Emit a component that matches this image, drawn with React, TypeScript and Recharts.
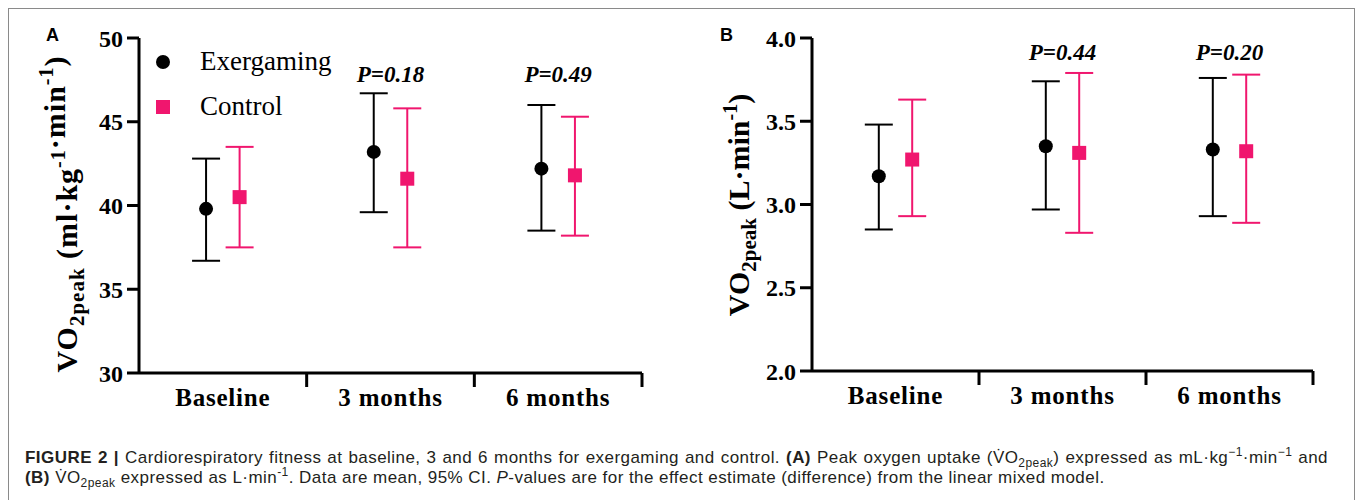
import React from 'react';
import { ScatterChart, Scatter, XAxis, YAxis, ErrorBar, ReferenceDot, Legend } from 'recharts';

const timepoints = ['Baseline', '3 months', '6 months'];
const groupNames = ['Exergaming', 'Control'];

// (A) VO2peak in ml·kg-1·min-1, mean and 95% CI
const exRelMean = [39.8, 43.2, 42.2];
const exRelLow = [36.7, 39.6, 38.5];
const exRelHigh = [42.8, 46.7, 46.0];
const ctRelMean = [40.5, 41.6, 41.8];
const ctRelLow = [37.5, 37.5, 38.2];
const ctRelHigh = [43.5, 45.8, 45.3];
const relPValues = ['', 'P=0.18', 'P=0.49'];
const relTicks = [30, 35, 40, 45, 50];

// (B) VO2peak in L·min-1, mean and 95% CI
const exAbsMean = [3.17, 3.35, 3.33];
const exAbsLow = [2.85, 2.97, 2.93];
const exAbsHigh = [3.48, 3.74, 3.76];
const ctAbsMean = [3.27, 3.31, 3.32];
const ctAbsLow = [2.93, 2.83, 2.89];
const ctAbsHigh = [3.63, 3.79, 3.78];
const absPValues = ['', 'P=0.44', 'P=0.20'];
const absTicks = [2.0, 2.5, 3.0, 3.5, 4.0];

const BLACK = '#000';
const PINK = '#F0166E';
const SERIF = '"Liberation Serif", "Times New Roman", serif';
const SANS = '"Liberation Sans", Arial, sans-serif';

const DODGE = 0.1; // groups sit either side of the timepoint centre
const xTicks = [0, 0.5, 1, 1.5, 2, 2.5]; // integers = labels, halves = separators

function toPoints(mean: number[], low: number[], high: number[], side: number) {
  return mean.map((m, i) => ({
    x: i + side * DODGE,
    y: m,
    err: [m - low[i], high[i] - m],
  }));
}

const Dot = (props: any) => <circle cx={props.cx} cy={props.cy} r={7} fill={BLACK} />;
const Square = (props: any) => (
  <rect x={props.cx - 7} y={props.cy - 7} width={14} height={14} fill={PINK} />
);

function TimeTick(props: any) {
  const { x, y, payload } = props;
  const v = payload.value;
  if (Number.isInteger(v)) {
    return (
      <text x={x} y={y + 33} textAnchor="middle" fontFamily={SERIF} fontWeight="bold"
        fontSize={25} letterSpacing={0.8} fill={BLACK}>
        {timepoints[v]}
      </text>
    );
  }
  return <line x1={x} y1={y} x2={x} y2={y + 14} stroke={BLACK} strokeWidth={3} />;
}

function YTitle({ cx, cy, units, spacing }: { cx: number; cy: number; units: string[][]; spacing: number }) {
  return (
    <text transform={`translate(${cx},${cy}) rotate(-90)`} textAnchor="middle" fontFamily={SERIF}
      fontWeight="bold" fontSize={30} letterSpacing={spacing} fill={BLACK}>
      VO<tspan dy={7} fontSize={21}>2peak</tspan>
      <tspan dy={-7}> (</tspan>
      {units.map(([base, sup], i) => (
        <React.Fragment key={i}>
          <tspan>{base}</tspan>
          <tspan dy={-12} fontSize={20}>{sup}</tspan>
          <tspan dy={12}>{i === units.length - 1 ? ')' : ''}</tspan>
        </React.Fragment>
      ))}
    </text>
  );
}

function LegendBox() {
  return (
    <div style={{ fontFamily: SERIF, fontSize: 27, color: BLACK }}>
      {groupNames.map((name, i) => (
        <div key={name} style={{ display: 'flex', alignItems: 'center', height: 45 }}>
          <svg width={14} height={14} style={{ marginRight: 30 }}>
            {i === 0 ? <circle cx={7} cy={7} r={7} fill={BLACK} /> : <rect width={14} height={14} fill={PINK} />}
          </svg>
          <span>{name}</span>
        </div>
      ))}
    </div>
  );
}

type PanelProps = {
  width: number; height: number; yWidth: number; right: number; bottom: number;
  domain: [number, number]; ticks: number[]; fmt: (v: number) => string;
  ex: any[]; ct: any[]; pValues: string[]; pY: number;
  title: React.ReactElement; legend?: boolean;
};

function Panel(p: PanelProps) {
  const axisStroke = { stroke: BLACK, strokeWidth: 3 };
  return (
    <ScatterChart width={p.width} height={p.height}
      margin={{ top: 38, right: p.right, bottom: p.bottom, left: 0 }}>
      <XAxis type="number" dataKey="x" domain={[-0.5, 2.5]} ticks={xTicks} interval={0}
        height={40} tickLine={false} tickSize={0} tickMargin={0} axisLine={axisStroke}
        tick={<TimeTick />} />
      <YAxis type="number" dataKey="y" domain={p.domain} ticks={p.ticks} interval={0}
        width={p.yWidth} tickSize={12} tickMargin={4} axisLine={axisStroke} tickLine={axisStroke}
        tickFormatter={p.fmt}
        tick={{ fill: BLACK, fontSize: 24, fontWeight: 'bold', fontFamily: SERIF }}
        label={p.title} />
      <Scatter name={groupNames[0]} data={p.ex} fill={BLACK} shape={Dot} isAnimationActive={false}>
        <ErrorBar dataKey="err" direction="y" width={14} stroke={BLACK} strokeWidth={2}
          isAnimationActive={false} />
      </Scatter>
      <Scatter name={groupNames[1]} data={p.ct} fill={PINK} shape={Square} isAnimationActive={false}>
        <ErrorBar dataKey="err" direction="y" width={14} stroke={PINK} strokeWidth={2}
          isAnimationActive={false} />
      </Scatter>
      {p.pValues.map((txt, i) => txt ? (
        <ReferenceDot key={i} x={i} y={p.pY} r={0} fill="none" stroke="none"
          label={{ value: txt, position: 'center', fill: BLACK, fontSize: 23, fontWeight: 'bold',
            fontStyle: 'italic', fontFamily: SERIF }} />
      ) : null)}
      {p.legend ? (
        <Legend layout="vertical" align="center" verticalAlign="middle" content={<LegendBox />}
          wrapperStyle={{ left: 156, top: 39, width: 220, height: 90 }} />
      ) : null}
    </ScatterChart>
  );
}

const supStyle = { fontSize: 12, lineHeight: 0 };

export default function App() {
  const exRel = toPoints(exRelMean, exRelLow, exRelHigh, -1);
  const ctRel = toPoints(ctRelMean, ctRelLow, ctRelHigh, 1);
  const exAbs = toPoints(exAbsMean, exAbsLow, exAbsHigh, -1);
  const ctAbs = toPoints(ctAbsMean, ctAbsLow, ctAbsHigh, 1);

  return (
    <div style={{ position: 'absolute', left: 0, top: 0, width: 1357, height: 500, background: '#fff', overflow: 'hidden' }}>
      <div style={{ position: 'absolute', left: 8, top: 8, width: 1345, height: 500,
        borderTop: '1.5px solid #8a8a8a', borderLeft: '1.5px solid #8a8a8a', borderRight: '1.5px solid #8a8a8a' }} />

      <div style={{ position: 'absolute', left: 46, top: 26, fontFamily: SANS, fontWeight: 'bold', fontSize: 18, lineHeight: '19px' }}>A</div>
      <div style={{ position: 'absolute', left: 720, top: 26, fontFamily: SANS, fontWeight: 'bold', fontSize: 18, lineHeight: '19px' }}>B</div>

      <div style={{ position: 'absolute', left: 0, top: 0 }}>
        <Panel width={680} height={421} yWidth={139} right={38} bottom={8}
          domain={[30, 50]} ticks={relTicks} fmt={(v) => String(v)}
          ex={exRel} ct={ctRel} pValues={relPValues} pY={47.84} legend
          title={<YTitle cx={77} cy={214} spacing={1} units={[['ml·kg', '-1'], ['·min', '-1']]} />} />
      </div>
      <div style={{ position: 'absolute', left: 680, top: 0 }}>
        <Panel width={677} height={420} yWidth={132} right={44} bottom={9}
          domain={[2, 4]} ticks={absTicks} fmt={(v) => v.toFixed(1)}
          ex={exAbs} ct={ctAbs} pValues={absPValues} pY={3.916}
          title={<YTitle cx={69} cy={205} spacing={0} units={[['L·min', '-1']]} />} />
      </div>

      <div style={{ position: 'absolute', left: 25, top: 448, width: 1303, fontFamily: SANS, fontSize: 17,
        lineHeight: '20px', letterSpacing: 0.45, color: '#231f20', whiteSpace: 'nowrap' }}>
        <div style={{ textAlignLast: 'justify', textAlign: 'justify' }}>
          <b>FIGURE 2 |</b> Cardiorespiratory fitness at baseline, 3 and 6 months for exergaming and control. <b>(A)</b> Peak oxygen uptake (V̇O<sub style={supStyle}>2peak</sub>) expressed as mL·kg<sup style={supStyle}>−1</sup>·min<sup style={supStyle}>−1</sup> and
        </div>
        <div>
          <b>(B)</b> V̇O<sub style={supStyle}>2peak</sub> expressed as L·min<sup style={supStyle}>-1</sup>. Data are mean, 95% CI. <i>P</i>-values are for the effect estimate (difference) from the linear mixed model.
        </div>
      </div>
    </div>
  );
}
